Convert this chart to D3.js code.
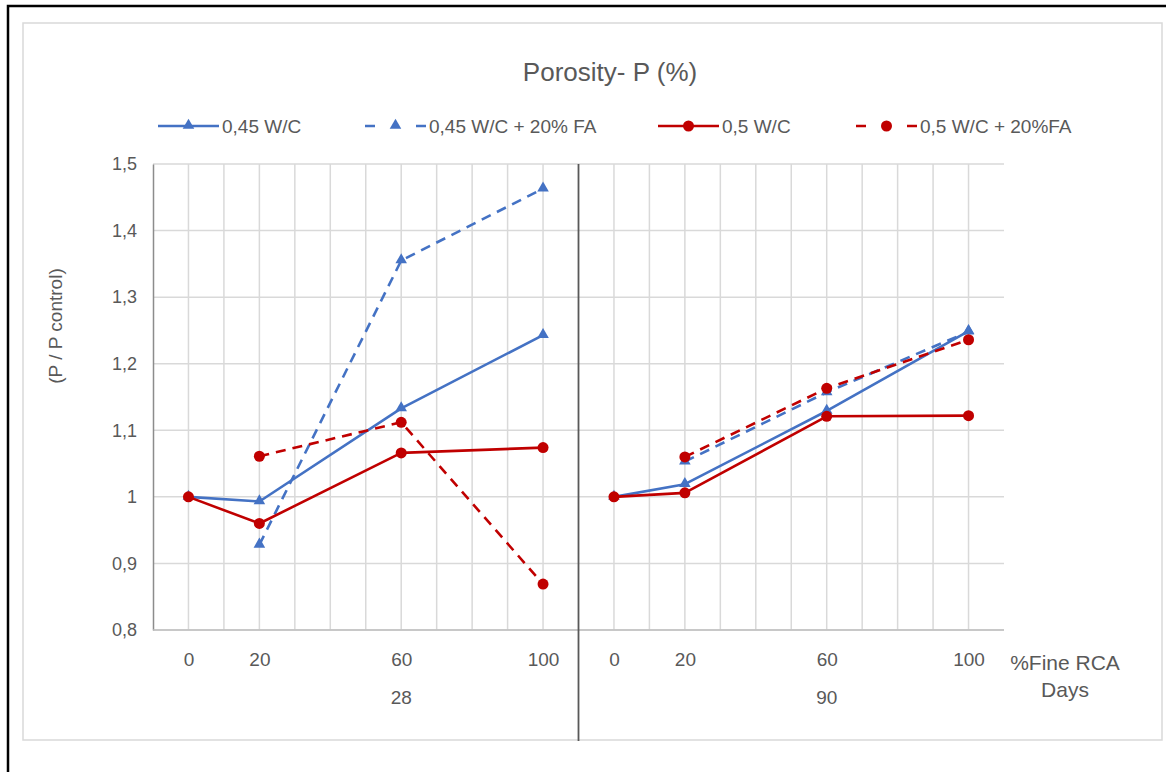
<!DOCTYPE html>
<html>
<head>
<meta charset="utf-8">
<script src="https://cdn.jsdelivr.net/npm/d3@7"></script>
<style>
  html, body { margin: 0; padding: 0; background: #fff; }
  svg { display: block; font-family: "Liberation Sans", Arial, sans-serif; }
</style>
</head>
<body>
<svg id="chart" width="1166" height="772"></svg>
<script>
// Curing ages (outer category level) and fine recycled aggregate replacement (inner level)
const ageGroups = ["28", "90"];
const rcaLevels = [0, 20, 60, 100];
const gridLevels = [0, 10, 20, 30, 40, 50, 60, 70, 80, 90, 100];
const yTicks = [0.8, 0.9, 1.0, 1.1, 1.2, 1.3, 1.4, 1.5];

// Relative porosity P / P control, one array per age
const wc045_28   = [1.000, 0.993, 1.133, 1.243];
const wc045_90   = [1.000, 1.019, 1.129, 1.249];
const wc045fa_28 = [null, 0.928, 1.355, 1.463];
const wc045fa_90 = [null, 1.053, 1.157, 1.248];
const wc05_28    = [1.000, 0.960, 1.066, 1.074];
const wc05_90    = [1.000, 1.006, 1.121, 1.122];
const wc05fa_28  = [null, 1.061, 1.112, 0.869];
const wc05fa_90  = [null, 1.060, 1.163, 1.236];

const seriesNames = ["0,45 W/C", "0,45 W/C + 20% FA", "0,5 W/C", "0,5 W/C + 20%FA"];

const BLUE = "#4472C4", RED = "#C00000";
const TEXT = "#595959";

const series = [
  { name: seriesNames[0], color: BLUE, dashed: false, marker: "tri",    vals: [wc045_28, wc045_90] },
  { name: seriesNames[1], color: BLUE, dashed: true,  marker: "tri",    vals: [wc045fa_28, wc045fa_90] },
  { name: seriesNames[2], color: RED,  dashed: false, marker: "circle", vals: [wc05_28, wc05_90] },
  { name: seriesNames[3], color: RED,  dashed: true,  marker: "circle", vals: [wc05fa_28, wc05fa_90] }
];

const svg = d3.select("#chart");

// Outer frame (top and left edges visible) and chart area border
svg.append("path")
  .attr("d", "M8,772 L8,6 L1166,6")
  .attr("fill", "none").attr("stroke", "#000").attr("stroke-width", 2.5);
svg.append("rect")
  .attr("x", 23).attr("y", 23).attr("width", 1139).attr("height", 717)
  .attr("fill", "#fff").attr("stroke", "#d9d9d9").attr("stroke-width", 1.5);

// Plot area
const plot = { left: 153, right: 1004, top: 164, bottom: 630 };

const groupScale = d3.scaleBand().domain(ageGroups).range([plot.left, plot.right]).padding(0);
const xFor = g => d3.scaleLinear().domain([-10, 110])
  .range([groupScale(g), groupScale(g) + groupScale.bandwidth()]);
const y = d3.scaleLinear().domain([0.8, 1.5]).range([plot.bottom, plot.top]);

const fmt = v => d3.format(".1~f")(v).replace(".", ",");

// Gridlines
const grid = svg.append("g").attr("stroke", "#d9d9d9").attr("stroke-width", 1.5);
grid.selectAll("line.h").data(yTicks).join("line")
  .attr("x1", plot.left).attr("x2", plot.right)
  .attr("y1", d => y(d)).attr("y2", d => y(d));
ageGroups.forEach(g => {
  const x = xFor(g);
  grid.selectAll(null).data(gridLevels).join("line")
    .attr("x1", d => x(d)).attr("x2", d => x(d))
    .attr("y1", plot.top).attr("y2", plot.bottom);
});

// Y axis
const yAxis = svg.append("g")
  .attr("transform", `translate(${plot.left},0)`)
  .call(d3.axisLeft(y).tickValues(yTicks).tickSize(0).tickPadding(16).tickFormat(fmt));
yAxis.select(".domain").attr("stroke", "#8c8c8c").attr("stroke-width", 1.5);
yAxis.selectAll("text").attr("fill", TEXT).style("font-size", "18px");

svg.append("text")
  .attr("transform", `translate(62,326) rotate(-90)`)
  .attr("text-anchor", "middle")
  .attr("fill", TEXT).style("font-size", "19px")
  .text("(P / P control)");

// Bottom axis line
svg.append("line")
  .attr("x1", plot.left).attr("x2", plot.right)
  .attr("y1", plot.bottom).attr("y2", plot.bottom)
  .attr("stroke", "#bfbfbf").attr("stroke-width", 1.5);

// X axes: one per age group, with the age below the replacement levels
ageGroups.forEach(g => {
  const x = xFor(g);
  const ax = svg.append("g")
    .attr("transform", `translate(0,${plot.bottom})`)
    .call(d3.axisBottom(x).tickValues(rcaLevels).tickSize(0).tickPadding(23).tickFormat(d3.format("d")));
  ax.select(".domain").remove();
  ax.selectAll("text").attr("fill", TEXT).style("font-size", "19px");
  // age label sits under the 60 % level
  svg.append("text")
    .attr("x", x(60)).attr("y", 704)
    .attr("text-anchor", "middle")
    .attr("fill", TEXT).style("font-size", "19px")
    .text(g);
});

// Divider between the two age groups
svg.append("line")
  .attr("x1", groupScale(ageGroups[1])).attr("x2", groupScale(ageGroups[1]))
  .attr("y1", plot.top).attr("y2", 741)
  .attr("stroke", "#595959").attr("stroke-width", 1.8);

// Axis titles at the right end
svg.append("text")
  .attr("x", 1065).attr("y", 670).attr("text-anchor", "middle")
  .attr("fill", TEXT).style("font-size", "21px").text("%Fine RCA");
svg.append("text")
  .attr("x", 1065).attr("y", 697).attr("text-anchor", "middle")
  .attr("fill", TEXT).style("font-size", "21px").text("Days");

// Chart title
svg.append("text")
  .attr("x", 610).attr("y", 81).attr("text-anchor", "middle")
  .attr("fill", TEXT).style("font-size", "26px").text("Porosity- P (%)");

// Markers
const triPath = d3.symbol(d3.symbolTriangle, 58)();
function drawMarker(sel, s) {
  if (s.marker === "tri") {
    sel.append("path").attr("d", triPath).attr("fill", s.color)
      .attr("transform", "translate(0,-0.5)");
  } else {
    sel.append("circle").attr("r", 5.5).attr("fill", s.color);
  }
}

// Series lines and markers
const line = xs => d3.line()
  .defined(d => d.v != null)
  .x(d => xs(d.k)).y(d => y(d.v));

series.forEach(s => {
  ageGroups.forEach((g, gi) => {
    const x = xFor(g);
    const pts = rcaLevels.map((k, i) => ({ k, v: s.vals[gi][i] }));
    svg.append("path")
      .datum(pts)
      .attr("d", line(x))
      .attr("fill", "none")
      .attr("stroke", s.color)
      .attr("stroke-width", 2.6)
      .attr("stroke-linejoin", "round")
      .attr("stroke-dasharray", s.dashed ? "10,7" : null);
    pts.filter(p => p.v != null).forEach(p => {
      const m = svg.append("g").attr("transform", `translate(${x(p.k)},${y(p.v)})`);
      drawMarker(m, s);
    });
  });
});

// Legend
const legendX = [158, 365, 658, 856];
const legendY = 126;
series.forEach((s, i) => {
  const g = svg.append("g").attr("transform", `translate(${legendX[i]},${legendY})`);
  g.append("line")
    .attr("x1", 0).attr("x2", 61).attr("y1", 0).attr("y2", 0)
    .attr("stroke", s.color).attr("stroke-width", 2.6)
    .attr("stroke-dasharray", s.dashed ? "10,41" : null);
  const m = g.append("g").attr("transform", "translate(30.5,0)");
  drawMarker(m, s);
  g.append("text")
    .attr("x", 64).attr("y", 7)
    .attr("fill", TEXT).style("font-size", "19px")
    .text(s.name);
});
</script>
</body>
</html>
